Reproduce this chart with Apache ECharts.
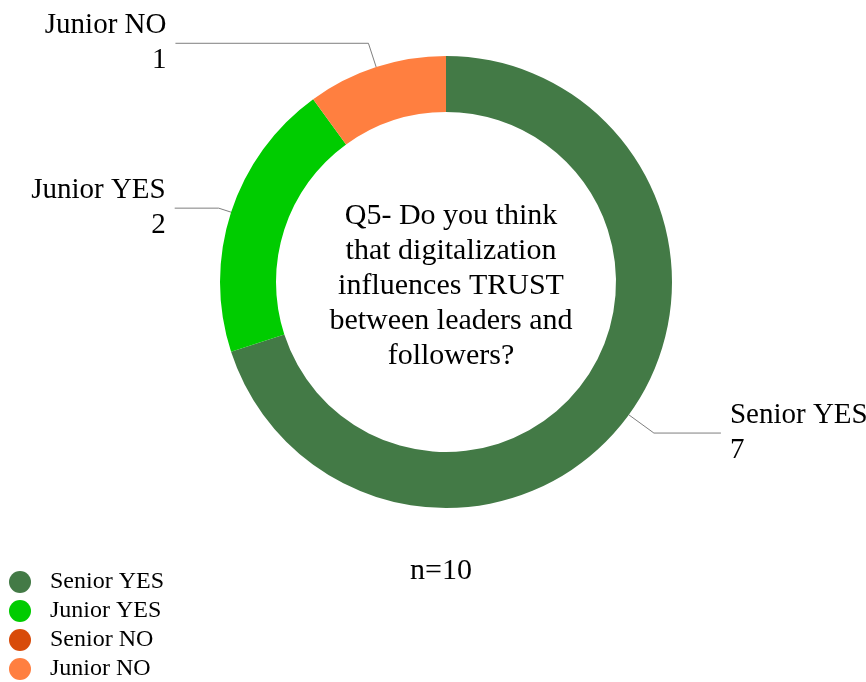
<!DOCTYPE html>
<html>
<head>
<meta charset="utf-8">
<script src="https://cdn.jsdelivr.net/npm/echarts@6/dist/echarts.min.js"></script>
<style>
  html, body { margin: 0; padding: 0; background: #ffffff; }
  #chart { width: 866px; height: 682px; }
</style>
</head>
<body>
<div id="chart"></div>
<script>
// Survey answers to Q5, split by seniority and answer
const categories = ['Senior YES', 'Junior YES', 'Senior NO', 'Junior NO'];
const counts = [7, 2, 0, 1];
const sampleSize = 10;
const question = 'Q5- Do you think\nthat digitalization\ninfluences TRUST\nbetween leaders and\nfollowers?';

// Appearance per slice
const sliceColors = ['#437a46', '#00cc00', '#d84b0a', '#ff7f40'];
const leaderLengths = [[31, 67], [13, 44], [12, 40], [25, 193]];

const FONT = '"Liberation Serif", "Times New Roman", serif';

const pieData = categories.map((name, i) => ({
  name: name,
  value: counts[i],
  itemStyle: { color: sliceColors[i] },
  label: { show: counts[i] > 0 },
  labelLine: { show: counts[i] > 0, length: leaderLengths[i][0], length2: leaderLengths[i][1] }
}));

const chart = echarts.init(document.getElementById('chart'), null, { renderer: 'canvas' });
chart.setOption({
  backgroundColor: '#ffffff',
  animation: false,
  title: [
    {
      text: question,
      left: 446, top: 281,
      textAlign: 'center', textVerticalAlign: 'middle',
      textStyle: { fontFamily: FONT, fontSize: 30, fontWeight: 'normal', color: '#000000', lineHeight: 35 }
    },
    {
      text: 'n=' + sampleSize,
      left: 436, top: 566,
      textAlign: 'center', textVerticalAlign: 'middle',
      textStyle: { fontFamily: FONT, fontSize: 30, fontWeight: 'normal', color: '#000000' }
    }
  ],
  legend: {
    orient: 'vertical',
    left: 9, bottom: 1,
    padding: 0,
    icon: 'circle',
    itemWidth: 22, itemHeight: 22, itemGap: 5,
    data: categories,
    textStyle: { fontFamily: FONT, fontSize: 24, lineHeight: 22, color: '#000000', padding: [0, 0, 0, 14] }
  },
  series: [{
    type: 'pie',
    center: [446, 282],
    radius: [170, 226],
    startAngle: 90,
    clockwise: true,
    avoidLabelOverlap: false,
    stillShowZeroSum: true,
    emphasis: { disabled: true },
    label: {
      position: 'outside',
      formatter: '{b}\n{c}',
      fontFamily: FONT,
      fontSize: 29,
      lineHeight: 35,
      color: '#000000',
      distanceToLabelLine: 9
    },
    labelLine: {
      smooth: false,
      lineStyle: { color: '#7f7f7f', width: 1 }
    },
    data: pieData
  }]
});
</script>
</body>
</html>
